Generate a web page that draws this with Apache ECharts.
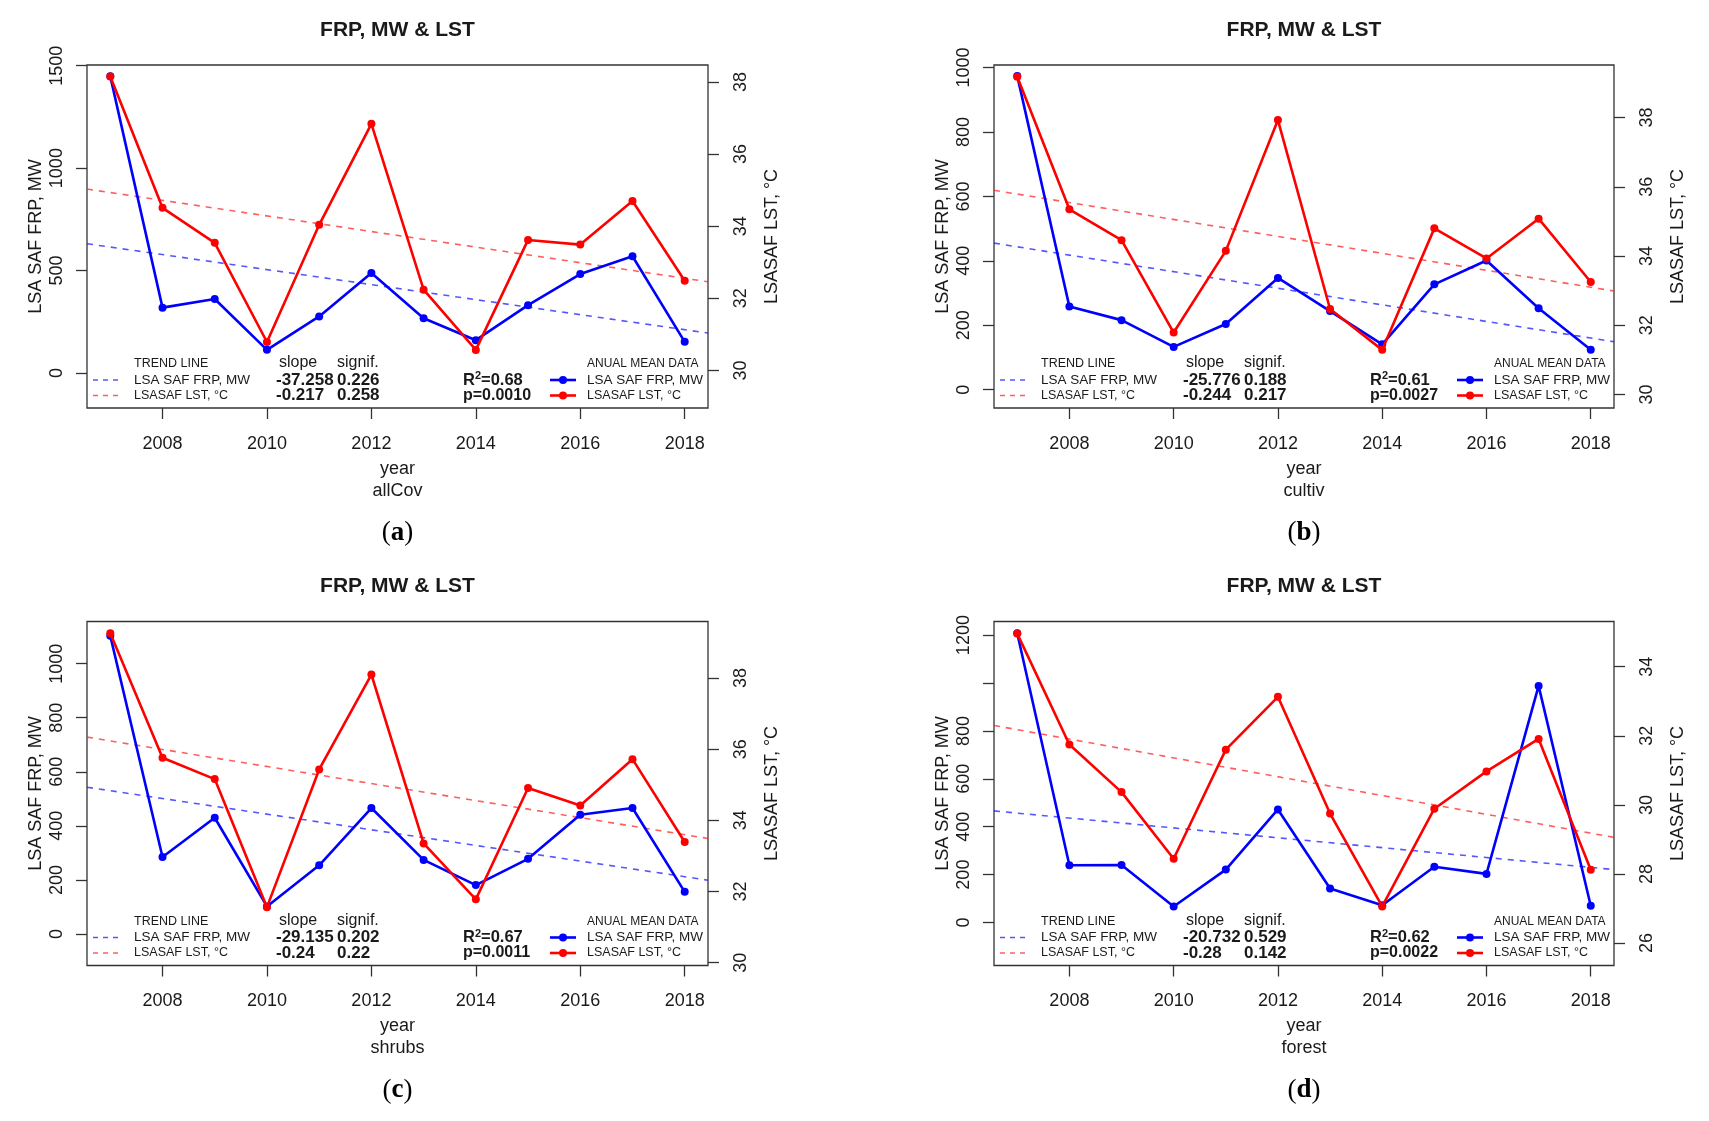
<!DOCTYPE html>
<html>
<head>
<meta charset="utf-8">
<script src="https://cdn.jsdelivr.net/npm/echarts@6/dist/echarts.min.js"></script>
<style>
html,body{margin:0;padding:0;background:#fff;}
#chart{width:1709px;height:1121px;}
</style>
</head>
<body>
<div id="chart"></div>
<script>
// ---------------- DATA ----------------
const years = [2007, 2008, 2009, 2010, 2011, 2012, 2013, 2014, 2015, 2016, 2017, 2018];
const yearTicks = [2008, 2010, 2012, 2014, 2016, 2018];
const trendYears = [2006.554, 2018.446];

const panelNames = ['allCov', 'cultiv', 'shrubs', 'forest'];
const panelLetters = ['a', 'b', 'c', 'd'];

const frpAllCov = [1448, 319, 361, 113, 276, 488, 267, 160, 331, 483, 570, 152];
const lstAllCov = [38.15, 34.51, 33.54, 30.79, 34.04, 36.84, 32.24, 30.57, 33.62, 33.49, 34.70, 32.49];
const frpTrendAllCov = [631, 195];
const lstTrendAllCov = [35.03, 32.46];

const frpCultiv = [974, 258, 216, 133, 204, 347, 244, 141, 327, 401, 253, 124];
const lstCultiv = [39.18, 35.35, 34.46, 31.79, 34.15, 37.93, 32.47, 31.29, 34.80, 33.93, 35.08, 33.25];
const frpTrendCultiv = [455, 149];
const lstTrendCultiv = [35.90, 32.99];

const frpShrubs = [1103, 285, 430, 102, 254, 466, 274, 181, 278, 441, 466, 156];
const lstShrubs = [39.26, 35.76, 35.16, 31.56, 35.43, 38.10, 33.35, 31.78, 34.91, 34.42, 35.72, 33.39];
const frpTrendShrubs = [543, 199];
const lstTrendShrubs = [36.34, 33.49];

const frpForest = [1208, 239, 240, 67, 221, 472, 142, 72, 233, 203, 988, 70];
const lstForest = [34.96, 31.75, 30.37, 28.44, 31.60, 33.13, 29.75, 27.06, 29.89, 30.97, 31.91, 28.12];
const frpTrendForest = [466, 221];
const lstTrendForest = [32.30, 29.06];

// axis ranges [min, max]
const frpRanges = [[-171, 1503.5], [-56.7, 1007.8], [-116.6, 1156], [-179.4, 1256.8]];
const lstRanges = [[28.96, 38.47], [29.61, 39.52], [29.92, 39.59], [25.35, 35.31]];

// tick values / labels
const frpTicks = [[0, 500, 1000, 1500], [0, 200, 400, 600, 800, 1000], [0, 200, 400, 600, 800, 1000], [0, 200, 400, 600, 800, 1000, 1200]];
const frpTickLabels = [[0, 500, 1000, 1500], [0, 200, 400, 600, 800, 1000], [0, 200, 400, 600, 800, 1000], [0, 200, 400, 600, 800, 1200]];
const lstTicks = [[30, 32, 34, 36, 38], [30, 32, 34, 36, 38], [30, 32, 34, 36, 38], [26, 28, 30, 32, 34]];

// statistics text
const slopeFrp = ['-37.258', '-25.776', '-29.135', '-20.732'];
const slopeLst = ['-0.217', '-0.244', '-0.24', '-0.28'];
const signifFrp = ['0.226', '0.188', '0.202', '0.529'];
const signifLst = ['0.258', '0.217', '0.22', '0.142'];
const rSquared = ['0.68', '0.61', '0.67', '0.62'];
const pValues = ['0.0010', '0.0027', '0.0011', '0.0022'];

const frpSeries = [frpAllCov, frpCultiv, frpShrubs, frpForest];
const lstSeries = [lstAllCov, lstCultiv, lstShrubs, lstForest];
const frpTrends = [frpTrendAllCov, frpTrendCultiv, frpTrendShrubs, frpTrendForest];
const lstTrends = [lstTrendAllCov, lstTrendCultiv, lstTrendShrubs, lstTrendForest];

// ---------------- LAYOUT ----------------
const boxes = [
  {left: 87, top: 65, w: 621, h: 343},
  {left: 994, top: 65, w: 620, h: 343},
  {left: 87, top: 621.5, w: 621, h: 344},
  {left: 994, top: 621.5, w: 620, h: 344}
];
const FONT = "'Liberation Sans', Arial, Helvetica, sans-serif";
const INK = '#1a1a1a';
const BLUE = '#0000ff';
const RED = '#ff0000';
const BLUE_T = 'rgba(30,30,255,0.75)';
const RED_T = 'rgba(255,40,40,0.75)';
const plain = v => String(v);

const grids = [], xAxes = [], yAxes = [], series = [], graphics = [];

boxes.forEach((b, i) => {
  grids.push({left: b.left, top: b.top, width: b.w, height: b.h, show: true,
    borderColor: '#333', borderWidth: 1.3, backgroundColor: 'transparent', containLabel: false});
  xAxes.push({
    type: 'value', gridIndex: i, position: 'bottom', min: trendYears[0], max: trendYears[1],
    axisLine: {show: false, onZero: false},
    axisTick: {show: true, length: 11, customValues: yearTicks, lineStyle: {color: '#333', width: 1.3}},
    axisLabel: {customValues: yearTicks, formatter: plain, margin: 27, fontSize: 18, color: INK, fontFamily: FONT},
    splitLine: {show: false}
  });
  yAxes.push({
    type: 'value', gridIndex: i, position: 'left', min: frpRanges[i][0], max: frpRanges[i][1],
    axisLine: {show: false, onZero: false},
    axisTick: {show: true, length: 11, customValues: frpTicks[i], lineStyle: {color: '#333', width: 1.3}},
    axisLabel: {customValues: frpTickLabels[i], formatter: plain, rotate: 90, margin: 21, fontSize: 18, color: INK, fontFamily: FONT},
    splitLine: {show: false},
    name: 'LSA SAF FRP, MW', nameLocation: 'middle', nameRotate: 90, nameGap: 42,
    nameTextStyle: {fontSize: 18, color: INK, fontFamily: FONT}
  });
  yAxes.push({
    type: 'value', gridIndex: i, position: 'right', min: lstRanges[i][0], max: lstRanges[i][1],
    axisLine: {show: false, onZero: false},
    axisTick: {show: true, length: 11, customValues: lstTicks[i], lineStyle: {color: '#333', width: 1.3}},
    axisLabel: {customValues: lstTicks[i], formatter: plain, rotate: 90, margin: 24, fontSize: 18, color: INK, fontFamily: FONT},
    splitLine: {show: false},
    name: 'LSASAF LST, °C', nameLocation: 'middle', nameRotate: 90, nameGap: 55,
    nameTextStyle: {fontSize: 18, color: INK, fontFamily: FONT}
  });

  series.push({
    type: 'line', xAxisIndex: i, yAxisIndex: 2 * i, z: 2, silent: true, symbol: 'none',
    data: trendYears.map((y, k) => [y, frpTrends[i][k]]),
    lineStyle: {color: BLUE_T, width: 1.6, type: [6, 6]}
  });
  series.push({
    type: 'line', xAxisIndex: i, yAxisIndex: 2 * i + 1, z: 2, silent: true, symbol: 'none',
    data: trendYears.map((y, k) => [y, lstTrends[i][k]]),
    lineStyle: {color: RED_T, width: 1.6, type: [6, 6]}
  });
  series.push({
    type: 'line', xAxisIndex: i, yAxisIndex: 2 * i, z: 3, symbol: 'circle', symbolSize: 8,
    data: years.map((y, k) => [y, frpSeries[i][k]]),
    lineStyle: {color: BLUE, width: 2.6}, itemStyle: {color: BLUE}
  });
  series.push({
    type: 'line', xAxisIndex: i, yAxisIndex: 2 * i + 1, z: 4, symbol: 'circle', symbolSize: 8,
    data: years.map((y, k) => [y, lstSeries[i][k]]),
    lineStyle: {color: RED, width: 2.6}, itemStyle: {color: RED}
  });

  const cx = b.left + b.w / 2;
  const bottom = b.top + b.h;
  const txt = (x, y, text, opts) => graphics.push({
    type: 'text', x: x, y: y, silent: true, z: 10,
    style: Object.assign({text: text, fill: INK, font: '13.5px ' + FONT, textAlign: 'left', textVerticalAlign: 'middle'}, opts || {})
  });

  // title & captions
  txt(cx, b.top - 35, 'FRP, MW & LST', {font: 'bold 21px ' + FONT, textAlign: 'center'});
  txt(cx, bottom + 61, 'year', {font: '18px ' + FONT, textAlign: 'center'});
  txt(cx, bottom + 83, panelNames[i], {font: '18px ' + FONT, textAlign: 'center'});
  graphics.push({
    type: 'text', x: cx, y: bottom + 125, silent: true,
    style: {
      text: '{p|(}{l|' + panelLetters[i] + '}{p|)}', textAlign: 'center', textVerticalAlign: 'middle',
      rich: {
        p: {font: '27px "Liberation Serif", "DejaVu Serif", serif', fill: '#000'},
        l: {font: 'bold 27px "Liberation Serif", "DejaVu Serif", serif', fill: '#000'}
      }
    }
  });

  // legend block inside plot
  const r0 = bottom - 44, r1 = bottom - 28, r2 = bottom - 12.5;
  const L = b.left;
  txt(L + 47, r0, 'TREND LINE', {font: '12.5px ' + FONT});
  txt(L + 47, r1, 'LSA SAF FRP, MW', {font: '13.5px ' + FONT});
  txt(L + 47, r2, 'LSASAF LST, °C', {font: '12.5px ' + FONT});
  graphics.push({type: 'line', silent: true, z: 10, shape: {x1: L + 6, y1: r1, x2: L + 36, y2: r1},
    style: {stroke: BLUE_T, lineWidth: 1.6, lineDash: [5, 5]}});
  graphics.push({type: 'line', silent: true, z: 10, shape: {x1: L + 6, y1: r2, x2: L + 36, y2: r2},
    style: {stroke: RED_T, lineWidth: 1.6, lineDash: [5, 5]}});

  txt(L + 192, r0 - 1, 'slope', {font: '16px ' + FONT});
  txt(L + 250, r0 - 1, 'signif.', {font: '16px ' + FONT});
  txt(L + 189, r1, slopeFrp[i], {font: 'bold 17px ' + FONT});
  txt(L + 189, r2, slopeLst[i], {font: 'bold 17px ' + FONT});
  txt(L + 250, r1, signifFrp[i], {font: 'bold 17px ' + FONT});
  txt(L + 250, r2, signifLst[i], {font: 'bold 17px ' + FONT});

  graphics.push({
    type: 'text', x: L + 376, y: r1, silent: true, z: 10,
    style: {
      text: '{b|R}{s|2}{b|=' + rSquared[i] + '}', textAlign: 'left', textVerticalAlign: 'middle',
      rich: {
        b: {font: 'bold 16.5px ' + FONT, fill: INK},
        s: {font: 'bold 11px ' + FONT, fill: INK, verticalAlign: 'top', padding: [0, 0, 8, 0]}
      }
    }
  });
  txt(L + 376, r2, 'p=' + pValues[i], {font: 'bold 16px ' + FONT});

  txt(L + 500, r0, 'ANUAL MEAN DATA', {font: '12px ' + FONT});
  txt(L + 500, r1, 'LSA SAF FRP, MW', {font: '13.5px ' + FONT});
  txt(L + 500, r2, 'LSASAF LST, °C', {font: '12.5px ' + FONT});
  graphics.push({type: 'line', silent: true, z: 10, shape: {x1: L + 463, y1: r1, x2: L + 489, y2: r1},
    style: {stroke: BLUE, lineWidth: 2.6}});
  graphics.push({type: 'circle', silent: true, z: 10, shape: {cx: L + 476, cy: r1, r: 4}, style: {fill: BLUE}});
  graphics.push({type: 'line', silent: true, z: 10, shape: {x1: L + 463, y1: r2, x2: L + 489, y2: r2},
    style: {stroke: RED, lineWidth: 2.6}});
  graphics.push({type: 'circle', silent: true, z: 10, shape: {cx: L + 476, cy: r2, r: 4}, style: {fill: RED}});
});

const chart = echarts.init(document.getElementById('chart'), null, {renderer: 'canvas'});
chart.setOption({
  animation: false,
  backgroundColor: '#ffffff',
  grid: grids,
  xAxis: xAxes,
  yAxis: yAxes,
  series: series,
  graphic: graphics
});
</script>
</body>
</html>
